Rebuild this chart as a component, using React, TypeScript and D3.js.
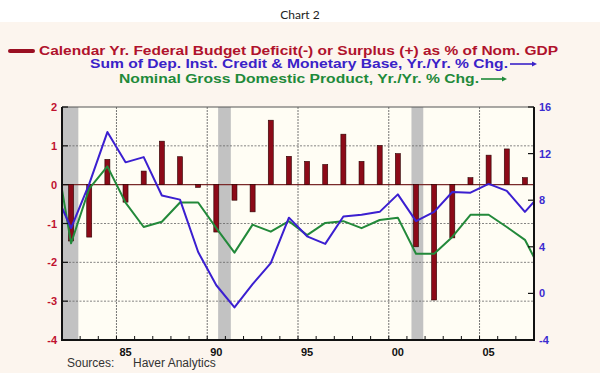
import React, { useEffect, useRef } from 'react';
import * as d3 from 'd3';

// annual budget balance, % of GDP (bars, left axis)
const barYears = [1982, 1983, 1984, 1985, 1986, 1987, 1988, 1989, 1990, 1991, 1992, 1993, 1994,
  1995, 1996, 1997, 1998, 1999, 2000, 2001, 2002, 2003, 2004, 2005, 2006, 2007];
const deficit = [-1.45, -1.35, 0.65, -0.45, 0.35, 1.12, 0.72, -0.07, -1.22, -0.4, -0.7, 1.66, 0.73,
  0.6, 0.52, 1.3, 0.6, 1.01, 0.8, -1.6, -2.97, -1.37, 0.18, 0.76, 0.92, 0.18];

// yr/yr % changes (lines, right axis); first and last points run off the frame
const lineYears = [1981, 1982, 1983, 1984, 1985, 1986, 1987, 1988, 1989, 1990, 1991, 1992, 1993, 1994,
  1995, 1996, 1997, 1998, 1999, 2000, 2001, 2002, 2003, 2004, 2005, 2006, 2007, 2008];
const credit = [9.1, 5.6, 9.4, 13.85, 11.25, 11.7, 8.4, 8.05, 3.55, 0.7, -1.2, 0.8, 2.6, 6.5,
  4.9, 4.25, 6.6, 6.75, 7.0, 8.5, 6.2, 7.0, 8.7, 8.65, 9.4, 8.8, 7.0, 8.75];
const gdp = [13.5, 4.3, 9.0, 10.9, 7.8, 5.7, 6.15, 7.8, 7.8, 5.6, 3.5, 5.9, 5.3, 6.2,
  5.0, 6.05, 6.2, 5.6, 6.3, 6.5, 3.4, 3.4, 4.85, 6.75, 6.75, 5.7, 4.6, 1.6];

const recessions = [[1982, 1982.9], [1990.6, 1991.3], [2001.25, 2001.9]];

const leftTicks = [-4, -3, -2, -1, 0, 1, 2];
const rightTicks = [-4, 0, 4, 8, 12, 16];
const majorYears = [1985, 1990, 1995, 2000, 2005];
const yearLabels = ['85', '90', '95', '00', '05'];

const W = 600;
const H = 373;
const margin = { top: 107, right: 66, bottom: 33, left: 62 };

const RED = '#b0122c';
const BLUE = '#3a22c8';
const GREEN = '#1f8a3a';

const App = () => {
  const ref = useRef(null);

  useEffect(() => {
    const svg = d3.select(ref.current);
    svg.selectAll('*').remove();

    const x0 = margin.left, x1 = W - margin.right;
    const y0 = margin.top, y1 = H - margin.bottom;

    const x = d3.scaleLinear().domain([1982, 2008]).range([x0, x1]);
    const yL = d3.scaleLinear().domain([-4, 2]).range([y1, y0]);
    const yR = d3.scaleLinear().domain([-4, 16]).range([y1, y0]);

    // backgrounds
    svg.append('rect').attr('width', W).attr('height', H).attr('fill', '#fcf5ee');
    svg.append('rect').attr('width', W).attr('height', 22).attr('fill', '#ffffff');
    svg.append('rect').attr('x', x0).attr('y', y0).attr('width', x1 - x0).attr('height', y1 - y0)
      .attr('fill', '#fffdf4');

    svg.append('defs').append('clipPath').attr('id', 'plotclip')
      .append('rect').attr('x', x0).attr('y', y0).attr('width', x1 - x0).attr('height', y1 - y0);

    // title
    svg.append('text').attr('x', 300).attr('y', 19).attr('text-anchor', 'middle')
      .style('font-family', 'Lato, "Open Sans", sans-serif').style('font-size', '12px')
      .attr('fill', '#222').text('Chart 2');

    // legend
    const legend = svg.append('g').style('font-family', '"Liberation Sans", Arial, sans-serif')
      .style('font-weight', 'bold').style('font-size', '12px');
    legend.append('rect').attr('x', 8).attr('y', 49).attr('width', 27).attr('height', 4)
      .attr('rx', 2).attr('fill', '#9a0f22');
    legend.append('text').attr('x', 39).attr('y', 55).attr('fill', RED)
      .attr('textLength', 519).attr('lengthAdjust', 'spacingAndGlyphs')
      .text('Calendar Yr. Federal Budget Deficit(-) or Surplus (+) as % of Nom. GDP');
    legend.append('text').attr('x', 90).attr('y', 68).attr('fill', BLUE)
      .attr('textLength', 418).attr('lengthAdjust', 'spacingAndGlyphs')
      .text('Sum of Dep. Inst. Credit & Monetary Base, Yr./Yr. % Chg.');
    legend.append('text').attr('x', 119).attr('y', 83).attr('fill', GREEN)
      .attr('textLength', 360).attr('lengthAdjust', 'spacingAndGlyphs')
      .text('Nominal Gross Domestic Product, Yr./Yr. % Chg.');

    const arrow = (xa, xb, yy, col) => {
      legend.append('line').attr('x1', xa).attr('x2', xb - 3).attr('y1', yy).attr('y2', yy)
        .attr('stroke', col).attr('stroke-width', 1.6);
      legend.append('path').attr('d', `M${xb},${yy} L${xb - 5},${yy - 2.5} L${xb - 5},${yy + 2.5} Z`)
        .attr('fill', col);
    };
    arrow(510, 537, 64, BLUE);
    arrow(481, 507, 79, GREEN);

    // recession shading
    svg.append('g').selectAll('rect').data(recessions).enter().append('rect')
      .attr('x', (d) => x(d[0])).attr('width', (d) => x(d[1]) - x(d[0]))
      .attr('y', y0).attr('height', y1 - y0).attr('fill', '#c2c2c2');

    // grid
    const grid = svg.append('g');
    grid.selectAll('.hg').data(leftTicks.filter((v) => v !== 0 && v > -4 && v < 2)).enter()
      .append('line').attr('x1', x0).attr('x2', x1).attr('y1', (d) => yL(d)).attr('y2', (d) => yL(d))
      .attr('stroke', '#666').attr('stroke-width', 0.8).attr('stroke-dasharray', '2,1.5');
    grid.selectAll('.vg').data(majorYears).enter()
      .append('line').attr('y1', y0).attr('y2', y1).attr('x1', (d) => x(d)).attr('x2', (d) => x(d))
      .attr('stroke', '#666').attr('stroke-width', 0.9).attr('stroke-dasharray', '2,1');
    grid.append('line').attr('x1', x0).attr('x2', x1).attr('y1', yL(0)).attr('y2', yL(0))
      .attr('stroke', '#7a2a2a').attr('stroke-width', 1.2);

    // bars
    const bw = 5;
    svg.append('g').selectAll('rect').data(barYears).enter().append('rect')
      .attr('x', (d) => x(d + 0.5) - bw / 2).attr('width', bw)
      .attr('y', (d, i) => yL(Math.max(0, deficit[i])))
      .attr('height', (d, i) => Math.abs(yL(deficit[i]) - yL(0)))
      .attr('fill', '#8c0a18').attr('stroke', '#2a0000').attr('stroke-width', 0.6);

    // lines
    const line = (vals) => d3.line()
      .x((d) => x(d + 0.5))
      .y((d, i) => yR(vals[i]))(lineYears);
    const lines = svg.append('g').attr('clip-path', 'url(#plotclip)');
    lines.append('path').attr('d', line(gdp)).attr('fill', 'none')
      .attr('stroke', '#23893a').attr('stroke-width', 2).attr('stroke-linejoin', 'round');
    lines.append('path').attr('d', line(credit)).attr('fill', 'none')
      .attr('stroke', '#3b1fd0').attr('stroke-width', 2).attr('stroke-linejoin', 'round');

    // frame
    svg.append('line').attr('x1', x0).attr('x2', x1).attr('y1', y0).attr('y2', y0)
      .attr('stroke', '#555').attr('stroke-width', 1);
    svg.append('path').attr('d', `M${x0},${y0} V${y1} H${x1} V${y0}`)
      .attr('fill', 'none').attr('stroke', '#111').attr('stroke-width', 2);

    const axisFont = (sel) => sel.style('font-family', '"Liberation Sans", Arial, sans-serif')
      .style('font-weight', 'bold').style('font-size', '11px');

    // left axis
    const la = svg.append('g');
    la.selectAll('line').data(leftTicks).enter().append('line')
      .attr('x1', x0).attr('x2', x0 + 6).attr('y1', (d) => yL(d)).attr('y2', (d) => yL(d))
      .attr('stroke', '#111').attr('stroke-width', 1.2);
    la.selectAll('text').data(leftTicks).enter().append('text')
      .attr('x', x0 - 5).attr('y', (d) => yL(d) + 4).attr('text-anchor', 'end')
      .attr('fill', '#c0112e').text((d) => d).call(axisFont);

    // right axis
    const ra = svg.append('g');
    ra.selectAll('line').data(rightTicks).enter().append('line')
      .attr('x1', x1 - 6).attr('x2', x1).attr('y1', (d) => yR(d)).attr('y2', (d) => yR(d))
      .attr('stroke', '#111').attr('stroke-width', 1.2);
    ra.selectAll('text').data(rightTicks).enter().append('text')
      .attr('x', x1 + 5).attr('y', (d) => yR(d) + 4)
      .attr('fill', '#3b2bd0').text((d) => d).call(axisFont);

    // bottom axis
    const ba = svg.append('g');
    ba.selectAll('line').data(barYears.slice(1)).enter().append('line')
      .attr('x1', (d) => x(d)).attr('x2', (d) => x(d)).attr('y1', y1).attr('y2', y1 - 4)
      .attr('stroke', '#111').attr('stroke-width', 1);
    ba.selectAll('text').data(majorYears).enter().append('text')
      .attr('x', (d) => x(d + 0.5)).attr('y', y1 + 16).attr('text-anchor', 'middle')
      .attr('fill', '#111').text((d, i) => yearLabels[i]).call(axisFont);

    // source
    const src = svg.append('g').style('font-family', '"Liberation Sans", Arial, sans-serif')
      .style('font-size', '12px').attr('fill', '#333');
    src.append('text').attr('x', 67).attr('y', 367).text('Sources:');
    src.append('text').attr('x', 133).attr('y', 367).text('Haver Analytics');
  }, []);

  return (
    <svg ref={ref} width={W} height={H}
      style={{ position: 'absolute', left: 0, top: 0, display: 'block' }} />
  );
};

export default App;
